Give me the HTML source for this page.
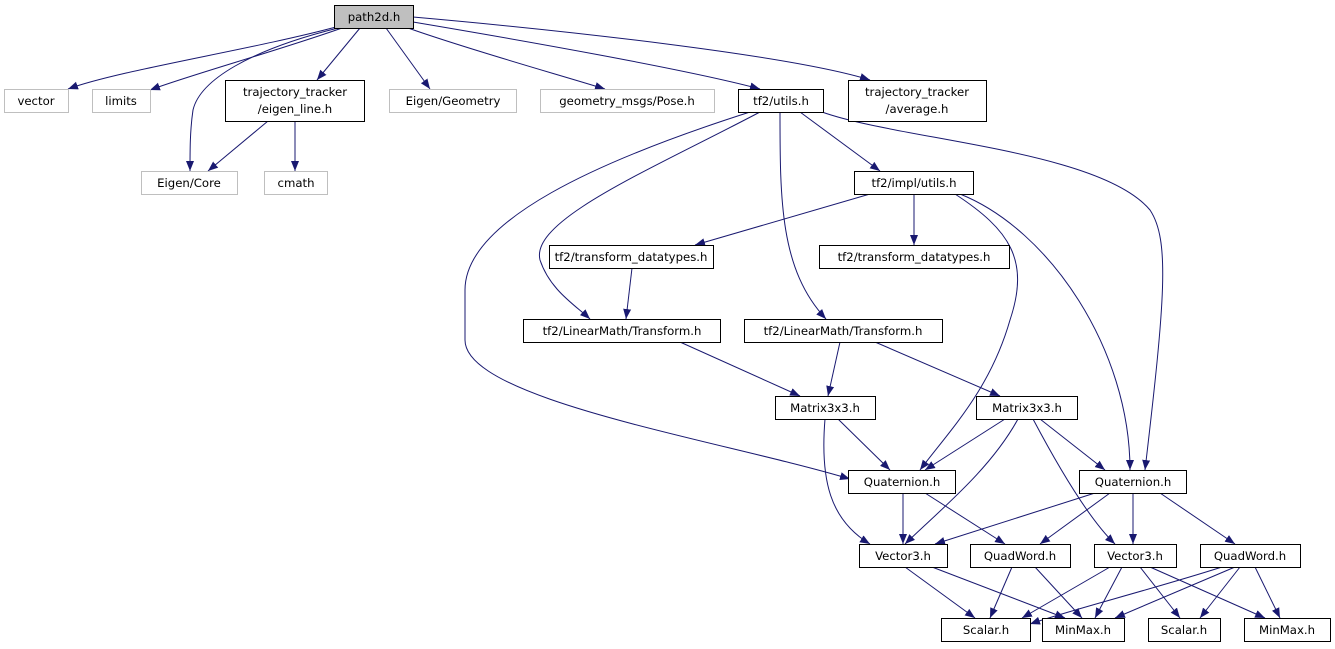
<!DOCTYPE html>
<html><head><meta charset="utf-8"><style>
html,body{margin:0;padding:0;background:#fff;}
svg{display:block;}
text{font-family:"DejaVu Sans","Liberation Sans",sans-serif;font-size:11.7px;fill:#000;}
</style></head><body>
<svg width="1335" height="649" viewBox="0 0 1335 649" xmlns="http://www.w3.org/2000/svg">
<defs><marker id="a" viewBox="0 0 10 10" refX="10" refY="5" markerWidth="10" markerHeight="10" markerUnits="userSpaceOnUse" orient="auto"><path d="M0,1 L10,5 L0,9 z" fill="#191970"/></marker></defs>
<g fill="none" stroke="#191970" stroke-width="1" marker-end="url(#a)">
<path d="M336,27 C250,50 120,70 68,89"/>
<path d="M342,28 C280,50 190,75 150,90"/>
<path d="M360,28 L317,80"/>
<path d="M386,28 L430,89"/>
<path d="M408,28 C470,50 560,75 605,89"/>
<path d="M413,22 C520,40 690,70 760,89"/>
<path d="M413,17 C560,30 790,55 870,80"/>
<path d="M338,28 C250,50 200,80 193,110 C190,130 190,150 190,171"/>
<path d="M268,121 L208,171"/>
<path d="M295,121 L295,171"/>
<path d="M800,112 L880,171"/>
<path d="M750,112 C600,160 465,220 465,290 L465,340 C465,400 720,440 850,479"/>
<path d="M760,112 C650,170 530,220 540,260 C550,290 575,305 590,319"/>
<path d="M780,112 C780,200 780,270 826,319"/>
<path d="M822,112 C900,140 1100,150 1150,210 C1170,240 1165,300 1145,470"/>
<path d="M870,194 L695,245"/>
<path d="M914,194 L914,245"/>
<path d="M955,194 C1010,230 1030,260 1010,320 C990,390 950,430 920,470"/>
<path d="M960,194 C1050,230 1130,350 1130,470"/>
<path d="M632,268 L626,319"/>
<path d="M680,342 L800,396"/>
<path d="M840,342 L828,396"/>
<path d="M875,342 L1000,396"/>
<path d="M838,419 L890,470"/>
<path d="M825,419 C820,480 830,520 870,544"/>
<path d="M1005,419 L925,470"/>
<path d="M1018,419 C990,470 940,510 905,544"/>
<path d="M1033,419 C1060,470 1090,520 1115,544"/>
<path d="M1040,419 L1105,470"/>
<path d="M903,493 L903,544"/>
<path d="M925,493 L1005,544"/>
<path d="M1095,493 L935,544"/>
<path d="M1110,493 L1040,544"/>
<path d="M1133,493 L1133,544"/>
<path d="M1160,493 L1235,544"/>
<path d="M905,567 L975,618"/>
<path d="M932,567 L1065,618"/>
<path d="M1012,567 L990,618"/>
<path d="M1035,567 L1082,618"/>
<path d="M1110,567 L1022,618"/>
<path d="M1122,567 L1095,618"/>
<path d="M1140,567 L1180,618"/>
<path d="M1150,567 L1265,618"/>
<path d="M1222,567 C1150,590 1070,610 1030,624"/>
<path d="M1235,567 L1115,618"/>
<path d="M1240,567 L1200,618"/>
<path d="M1255,567 L1280,618"/>
</g>
<g stroke-width="1">
<rect x="334.5" y="5.5" width="79" height="23" fill="#bfbfbf" stroke="#000"/>
<rect x="4.5" y="89.5" width="64" height="23" fill="#fff" stroke="#bfbfbf"/>
<rect x="92.5" y="89.5" width="58" height="23" fill="#fff" stroke="#bfbfbf"/>
<rect x="225.5" y="80.5" width="139" height="41" fill="#fff" stroke="#000"/>
<rect x="389.5" y="89.5" width="127" height="23" fill="#fff" stroke="#bfbfbf"/>
<rect x="540.5" y="89.5" width="174" height="23" fill="#fff" stroke="#bfbfbf"/>
<rect x="738.5" y="89.5" width="85" height="23" fill="#fff" stroke="#000"/>
<rect x="848.5" y="80.5" width="138" height="41" fill="#fff" stroke="#000"/>
<rect x="141.5" y="171.5" width="96" height="23" fill="#fff" stroke="#bfbfbf"/>
<rect x="264.5" y="171.5" width="63" height="23" fill="#fff" stroke="#bfbfbf"/>
<rect x="854.5" y="171.5" width="119" height="23" fill="#fff" stroke="#000"/>
<rect x="549.5" y="245.5" width="164" height="23" fill="#fff" stroke="#000"/>
<rect x="819.5" y="245.5" width="190" height="23" fill="#fff" stroke="#000"/>
<rect x="523.5" y="319.5" width="197" height="23" fill="#fff" stroke="#000"/>
<rect x="744.5" y="319.5" width="198" height="23" fill="#fff" stroke="#000"/>
<rect x="775.5" y="396.5" width="100" height="23" fill="#fff" stroke="#000"/>
<rect x="976.5" y="396.5" width="101" height="23" fill="#fff" stroke="#000"/>
<rect x="848.5" y="470.5" width="107" height="23" fill="#fff" stroke="#000"/>
<rect x="1079.5" y="470.5" width="107" height="23" fill="#fff" stroke="#000"/>
<rect x="859.5" y="544.5" width="88" height="23" fill="#fff" stroke="#000"/>
<rect x="970.5" y="544.5" width="100" height="23" fill="#fff" stroke="#000"/>
<rect x="1094.5" y="544.5" width="82" height="23" fill="#fff" stroke="#000"/>
<rect x="1200.5" y="544.5" width="100" height="23" fill="#fff" stroke="#000"/>
<rect x="941.5" y="618.5" width="89" height="23" fill="#fff" stroke="#000"/>
<rect x="1042.5" y="618.5" width="82" height="23" fill="#fff" stroke="#000"/>
<rect x="1148.5" y="618.5" width="72" height="23" fill="#fff" stroke="#000"/>
<rect x="1244.5" y="618.5" width="86" height="23" fill="#fff" stroke="#000"/>
</g>
<g text-anchor="middle">
<text x="374" y="21">path2d.h</text>
<text x="36" y="105">vector</text>
<text x="121" y="105">limits</text>
<text x="295" y="96">trajectory_tracker</text>
<text x="295" y="113">/eigen_line.h</text>
<text x="453" y="105">Eigen/Geometry</text>
<text x="627" y="105">geometry_msgs/Pose.h</text>
<text x="781" y="105">tf2/utils.h</text>
<text x="917" y="96">trajectory_tracker</text>
<text x="917" y="113">/average.h</text>
<text x="189" y="187">Eigen/Core</text>
<text x="296" y="187">cmath</text>
<text x="914" y="187">tf2/impl/utils.h</text>
<text x="631" y="261">tf2/transform_datatypes.h</text>
<text x="914" y="261">tf2/transform_datatypes.h</text>
<text x="622" y="335">tf2/LinearMath/Transform.h</text>
<text x="843" y="335">tf2/LinearMath/Transform.h</text>
<text x="825" y="412">Matrix3x3.h</text>
<text x="1027" y="412">Matrix3x3.h</text>
<text x="902" y="486">Quaternion.h</text>
<text x="1133" y="486">Quaternion.h</text>
<text x="903" y="560">Vector3.h</text>
<text x="1020" y="560">QuadWord.h</text>
<text x="1135" y="560">Vector3.h</text>
<text x="1250" y="560">QuadWord.h</text>
<text x="986" y="634">Scalar.h</text>
<text x="1083" y="634">MinMax.h</text>
<text x="1184" y="634">Scalar.h</text>
<text x="1287" y="634">MinMax.h</text>
</g>
</svg>
</body></html>
